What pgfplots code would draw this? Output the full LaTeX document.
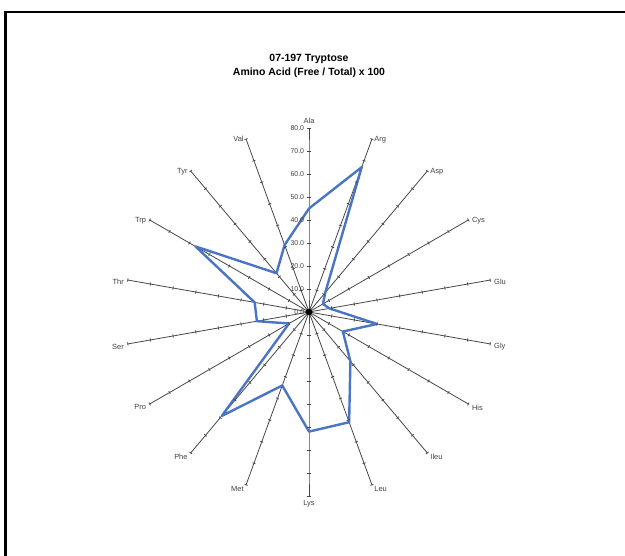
\documentclass[border=0pt]{standalone}
\usepackage{fontspec}
\setmainfont{Liberation Sans}
\usepackage{pgfplots}
\pgfplotsset{compat=1.18}
\definecolor{serblue}{RGB}{74,116,196}
\definecolor{spoke}{RGB}{70,70,70}
\newcommand{\catfont}{\fontsize{7.5}{8}\selectfont}
\newcommand{\tickfont}{\fontsize{7}{7}\selectfont}
% category label at the end of a spoke: angle, name, anchor
\newcommand{\catlabel}[3]{\node[anchor=#3, font=\catfont, text=black!75, inner sep=1.5bp] at (axis cs:{81*cos(#1)},{81*sin(#1)-1}) {#2};}
\newcommand{\rlabel}[1]{\node[anchor=east, font=\tickfont, text=black!75, inner sep=1bp] at (axis cs:-1.6,#1) {#1.0};}

\begin{document}
\begin{tikzpicture}[x=1bp,y=1bp]
\draw[line width=2.6bp] (5.5,0) -- (5.5,544) -- (625,544);
\node[font=\bfseries\fontsize{10.5}{12}\selectfont] at (309,497) {07-197 Tryptose};
\node[font=\bfseries\fontsize{10.5}{12}\selectfont] at (309,483) {Amino Acid (Free / Total) x 100};
\begin{axis}[
    at={(309bp,244bp)}, anchor=origin,
    scale only axis, width=368bp, height=368bp,
    xmin=-80, xmax=80, ymin=-80, ymax=80,
    hide axis, clip=false,
    ]
    % spokes, one per amino acid, ticks every 10
    \pgfplotsinvokeforeach{90,70,50,30,10,-10,-30,-50,-70,-90,-110,-130,-150,-170,-190,-210,-230,-250}{
        \addplot[spoke, line width=0.8bp, data cs=polar, mark=|, mark size=1.6bp,
            mark options={rotate=#1, solid, line width=0.8bp}]
            coordinates {(#1,0) (#1,10) (#1,20) (#1,30) (#1,40) (#1,50) (#1,60) (#1,70) (#1,80)};
    }
    % free / total x 100
    \addplot[serblue, line width=2.4bp, line join=round, data cs=polar] coordinates {
        (90,45) (70,67) (50,11) (30,7) (10,9) (-10,30) (-30,17) (-50,28) (-70,51)
        (-90,52) (-110,34) (-130,59) (-150,10) (-170,23) (170,24) (150,57) (130,22)
        (110,31) (90,45)};
    \addplot[black, only marks, mark=*, mark size=3bp] coordinates {(0,0)};

    \rlabel{0}\rlabel{10}\rlabel{20}\rlabel{30}\rlabel{40}
    \rlabel{50}\rlabel{60}\rlabel{70}\rlabel{80}

    \node[anchor=south, font=\catfont, text=black!75, inner sep=1.5bp] at (axis cs:0,81) {Ala};
    \catlabel{70}{Arg}{west}
    \catlabel{50}{Asp}{west}
    \catlabel{30}{Cys}{west}
    \catlabel{10}{Glu}{west}
    \catlabel{-10}{Gly}{west}
    \catlabel{-30}{His}{west}
    \catlabel{-50}{Ileu}{west}
    \catlabel{-70}{Leu}{west}
    \node[anchor=north, font=\catfont, text=black!75, inner sep=1.5bp] at (axis cs:0,-81) {Lys};
    \catlabel{-110}{Met}{east}
    \catlabel{-130}{Phe}{east}
    \catlabel{-150}{Pro}{east}
    \catlabel{-170}{Ser}{east}
    \catlabel{170}{Thr}{east}
    \catlabel{150}{Trp}{east}
    \catlabel{130}{Tyr}{east}
    \catlabel{110}{Val}{east}
\end{axis}
\pgfresetboundingbox
\path[use as bounding box] (0,0) rectangle (625,556);
\end{tikzpicture}
\end{document}
